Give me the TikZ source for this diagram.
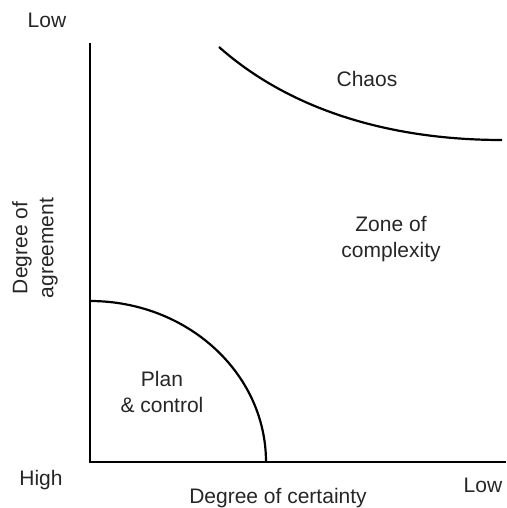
\documentclass[tikz,border=0pt]{standalone}
\usepackage{fontspec}
\setmainfont{Liberation Sans}
\begin{document}
\begin{tikzpicture}[x=1pt,y=-1pt,
  axis/.style={line width=2.7pt,line cap=rect},
  zone/.style={line width=2.2pt},
  lbl/.style={font=\fontsize{21}{26}\selectfont,inner sep=0pt,align=center,text=black!85}]
\useasboundingbox (0,0) rectangle (506,508);
% axes
\coordinate (top) at (90,44);
\coordinate (O) at (90,462);
\coordinate (right) at (505,462);
\draw[axis] (top) -- (O) -- (right);
% plan & control boundary
\coordinate (pa) at (90,301);
\coordinate (pb) at (266,462);
\draw[zone] (pa) arc[start angle=-90,end angle=0,x radius=176,y radius=161];
% chaos boundary
\coordinate (ca) at (219,47);
\coordinate (cb) at (502,140);
\draw[zone] (ca) .. controls (290,110) and (390,140) .. (cb);
% labels
\node[lbl,anchor=base] (lowtop) at (47,28) {Low};
\node[lbl,rotate=90] (agree) at (35,248) {Degree of\\agreement};
\node[lbl,anchor=base] (chaos) at (367,87) {Chaos};
\node[lbl] (zone) at (391,239) {Zone of\\complexity};
\node[lbl] (plan) at (162,392) {Plan\\\& control};
\node[lbl,anchor=base] (high) at (41,485) {High};
\node[lbl,anchor=base] (cert) at (278,503) {Degree of certainty};
\node[lbl,anchor=base] (lowright) at (483,492) {Low};
\end{tikzpicture}
\end{document}
